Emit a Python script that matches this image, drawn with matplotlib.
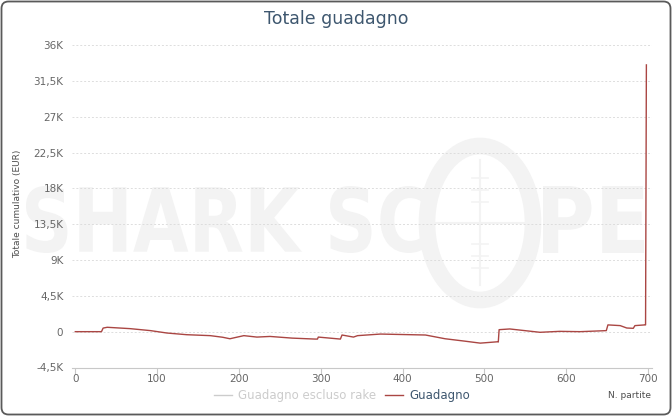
import matplotlib
matplotlib.use('Agg')
import matplotlib.pyplot as plt
import matplotlib.transforms as mtransforms
from matplotlib.textpath import TextPath
from matplotlib.font_manager import FontProperties
from matplotlib.patches import PathPatch, Ellipse, FancyBboxPatch
from matplotlib.lines import Line2D
from matplotlib.ticker import FuncFormatter

# cumulative winnings (EUR) vs number of games
partite = [0, 32, 34, 39, 67, 92, 112, 136, 165, 180, 189, 195, 206, 222, 238,
           265, 293, 296, 297, 324, 326, 340, 345, 373, 391, 428, 452, 476,
           495, 516, 517, 518, 531, 568, 592, 617, 649, 651, 666, 674, 682,
           684, 696, 697, 698]
guadagno = [0, 0, 450, 550, 380, 130, -170, -380, -500, -700, -890, -750, -500,
            -680, -600, -810, -930, -930, -680, -930, -420, -680, -500, -300,
            -340, -420, -890, -1190, -1440, -1270, -1300, 250, 340, -80, 40, 0,
            130, 850, 760, 460, 420, 760, 850, 850, 33500]

y_ticks = [-4500, 0, 4500, 9000, 13500, 18000, 22500, 27000, 31500, 36000]
x_ticks = [0, 100, 200, 300, 400, 500, 600, 700]
legend_labels = ['Guadagno escluso rake', 'Guadagno']

W, H = 672, 416
fig = plt.figure(figsize=(W / 100, H / 100), dpi=100)
fig.patch.set_facecolor('white')
ident = mtransforms.IdentityTransform()

# faint watermark behind the plot
wm = '#f3f3f3'
bold = FontProperties(family='DejaVu Sans', weight='bold')


def watermark_text(s, x0, x1, y0, y1):
    tp = TextPath((0, 0), s, size=100, prop=bold)
    ext = tp.get_extents()
    tr = (mtransforms.Affine2D()
          .translate(-ext.x0, -ext.y0)
          .scale((x1 - x0) / ext.width, (y1 - y0) / ext.height)
          .translate(x0, y0))
    fig.patches.append(PathPatch(tr.transform_path(tp), facecolor=wm,
                                 edgecolor='none', transform=ident, zorder=0))


watermark_text('SHARK SC', 26, 425, H - 253, H - 186)
watermark_text('PE', 543, 644, H - 253, H - 186)
fig.patches.append(Ellipse((480, H - 223), 106, 154, facecolor='none',
                           edgecolor=wm, linewidth=12, transform=ident, zorder=0))
fig.lines.append(Line2D([480, 480], [H - 285, H - 160], color=wm, lw=1.5,
                        transform=ident, zorder=0))
fig.lines.append(Line2D([429, 531], [H - 223, H - 223], color=wm, lw=1.5,
                        transform=ident, zorder=0))
for yy in [178, 190, 202, 244, 256, 268]:
    fig.lines.append(Line2D([472, 488], [H - yy, H - yy], color=wm, lw=1.2,
                            transform=ident, zorder=0))

# outer rounded frame
fig.patches.append(FancyBboxPatch((1.5, 1.5), W - 3, H - 3,
                                  boxstyle='round,pad=0,rounding_size=7',
                                  facecolor='none', edgecolor='#5a5a5a',
                                  linewidth=1.3, transform=ident, zorder=5))

ax = fig.add_axes([71.7 / W, (H - 367.5) / H, 580 / W, 322.5 / H])
ax.set_facecolor('none')
ax.set_zorder(2)

ax.plot(partite, guadagno, color='#aa4643', lw=1.0, zorder=3)

ax.set_xlim(-4.4, 704.5)
ax.set_ylim(-4500, 36000)
ax.set_xticks(x_ticks)
ax.set_yticks(y_ticks)


def fmt_k(v, pos):
    if v == 0:
        return '0'
    s = ('%g' % (v / 1000)).replace('.', ',')
    return s + 'K'


ax.yaxis.set_major_formatter(FuncFormatter(fmt_k))
ax.grid(axis='y', color='#dddddd', linestyle=(0, (2, 2)), lw=0.7)
ax.set_axisbelow(True)
for sp in ['top', 'right', 'left']:
    ax.spines[sp].set_visible(False)
ax.spines['bottom'].set_color('#c8c8c8')
ax.tick_params(axis='y', length=0, pad=6, labelsize=7.5, labelcolor='#666666')
ax.tick_params(axis='x', length=4, color='#c8c8c8', pad=1, labelsize=7.5,
               labelcolor='#666666')

fig.text(336 / W, 1 - 19 / H, 'Totale guadagno', ha='center', va='center',
         fontsize=12.5, color='#3e576f')
fig.text(18 / W, 1 - 204 / H, 'Totale cumulativo (EUR)', rotation=90,
         ha='center', va='center', fontsize=6.5, color='#4d4d4d')
fig.text(630 / W, 1 - 396 / H, 'N. partite', ha='center', va='center',
         fontsize=6.5, color='#4d4d4d')

handles = [Line2D([], [], color='#cccccc', lw=1),
           Line2D([], [], color='#aa4643', lw=1)]
leg = fig.legend(handles, legend_labels, loc='center',
                 bbox_to_anchor=(342 / W, 20 / H), ncol=2, frameon=False,
                 fontsize=8.5, handlelength=1.5, handletextpad=0.5,
                 columnspacing=0.8)
leg.get_texts()[0].set_color('#cccccc')
leg.get_texts()[1].set_color('#3e576f')

fig.savefig('out.png', dpi=100)
